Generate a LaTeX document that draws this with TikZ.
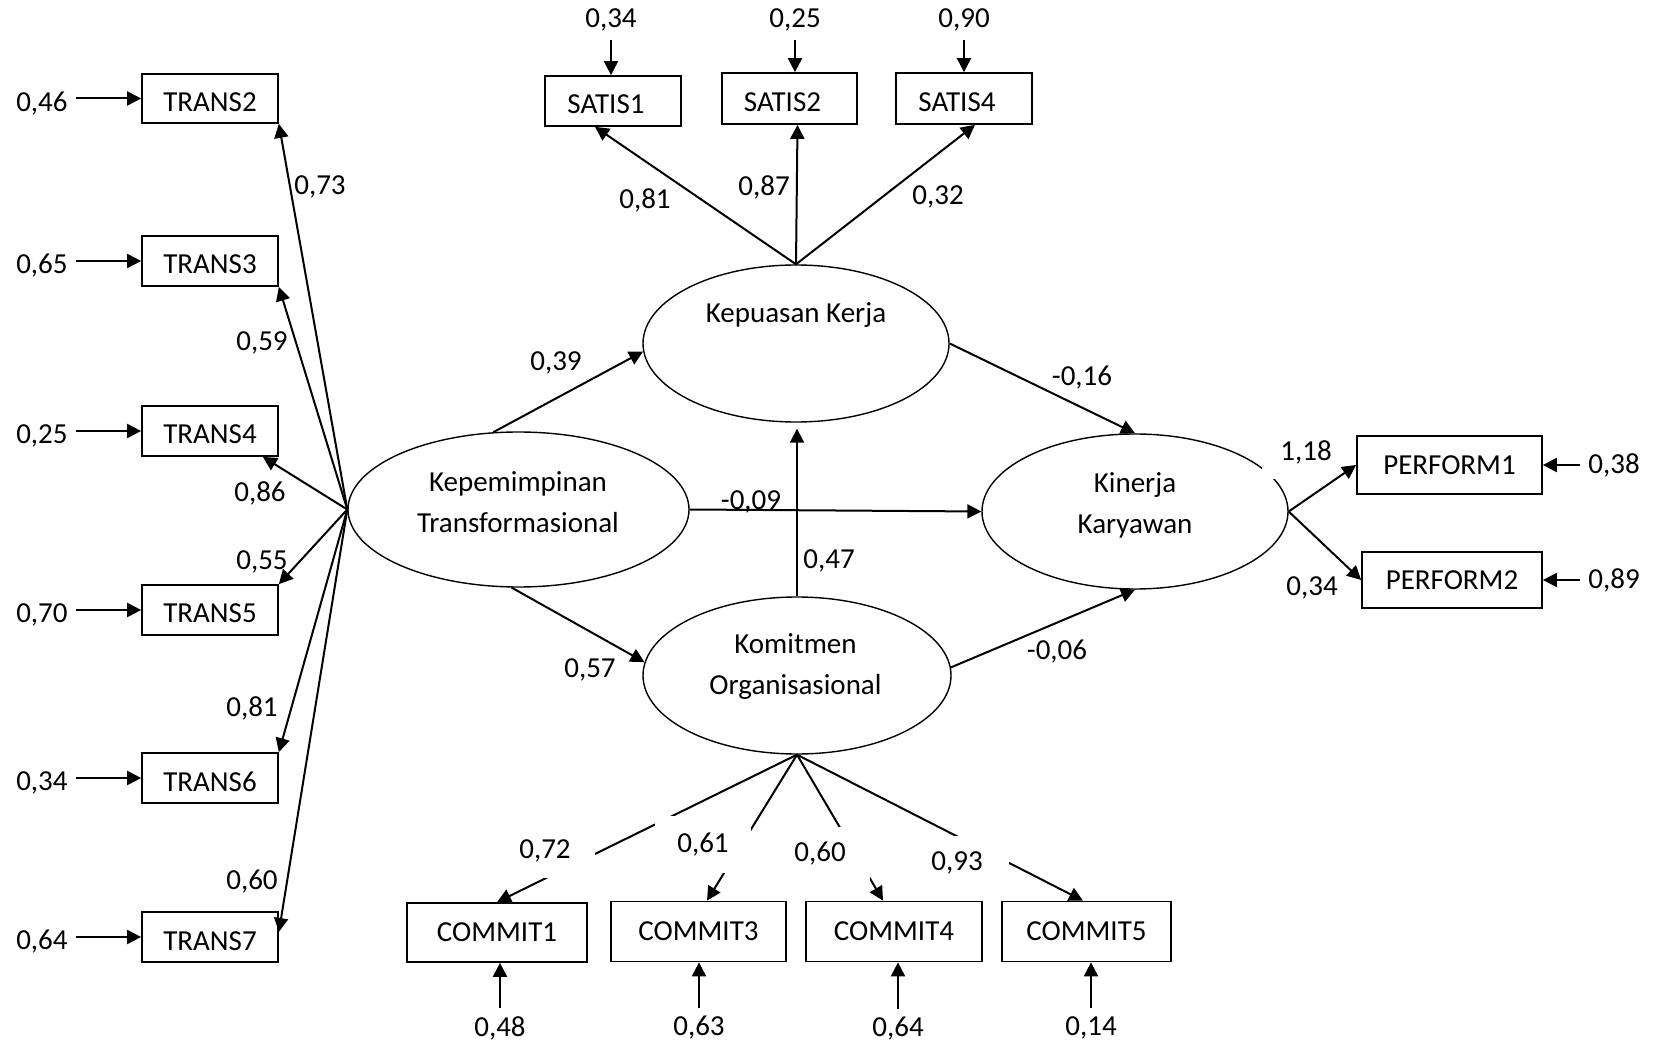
\documentclass[tikz,border=0pt]{standalone}
\usepackage{fontspec}
\setmainfont{Carlito}
\usetikzlibrary{arrows.meta,calc,shapes.geometric}
\begin{document}
\begin{tikzpicture}[x=0.5pt,y=-0.5pt,
  every node/.style={font=\fontsize{14.5}{20.5}\selectfont},
  box/.style={draw,line width=0.85pt,inner sep=0pt},
  lowbox/.style={box,text height=13pt,text depth=0pt},
  lat/.style={draw,ellipse,line width=0.7pt,inner sep=0pt},
  arr/.style={line width=1pt,-{Triangle[length=7pt,width=7pt]}},
  num/.style={inner sep=0pt},
  err/.style={inner sep=4pt},
  gap/.style={fill=white,inner sep=0pt}
]
\useasboundingbox (0,0) rectangle (1654,1042);

% latent variables
\node[lat,minimum width=170.5pt,minimum height=77.5pt] (K) at (518.5,509.5) {};
\node[lat,minimum width=153pt,minimum height=78.5pt] (P) at (796,343.5) {};
\node[lat,minimum width=154pt,minimum height=78.5pt] (C) at (797,675.5) {};
\node[lat,minimum width=153pt,minimum height=77.5pt] (Y) at (1135,511.5) {};
\node[align=center] (Ktxt) at (518,502) {Kepemimpinan\\Transformasional};
\node (Ptxt) at (796,315) {Kepuasan Kerja};
\node[align=center] (Ctxt) at (795.5,667) {Komitmen\\Organisasional};
\node[align=center] (Ytxt) at (1135,505.5) {Kinerja\\Karyawan};

% indicator boxes
\node[lowbox,minimum width=68pt,minimum height=24.5pt] (T2) at (210,98.5) {TRANS2};
\node[lowbox,minimum width=68pt,minimum height=25pt] (T3) at (210,261) {TRANS3};
\node[lowbox,minimum width=68pt,minimum height=25pt] (T4) at (210,431) {TRANS4};
\node[lowbox,minimum width=68pt,minimum height=25pt] (T5) at (210,610) {TRANS5};
\node[lowbox,minimum width=68pt,minimum height=25pt] (T6) at (210,778) {TRANS6};
\node[lowbox,minimum width=68pt,minimum height=25pt] (T7) at (210,937) {TRANS7};

\node[lowbox,minimum width=68pt,minimum height=25pt] (S1) at (613,101) {\hspace*{-7pt}SATIS1};
\node[lowbox,minimum width=67.5pt,minimum height=25.5pt] (S2) at (789.5,98.5) {\hspace*{-7pt}SATIS2};
\node[lowbox,minimum width=68pt,minimum height=25.5pt] (S4) at (964,98.5) {\hspace*{-7pt}SATIS4};

\node[box,minimum width=92.5pt,minimum height=29pt] (PF1) at (1449.5,465) {PERFORM1};
\node[box,minimum width=90pt,minimum height=28pt] (PF2) at (1452,580) {PERFORM2};

\node[box,minimum width=90pt,minimum height=29.5pt] (CM1) at (497,932.5) {COMMIT1};
\node[box,minimum width=87.5pt,minimum height=30pt] (CM3) at (698.5,931.5) {COMMIT3};
\node[box,minimum width=88pt,minimum height=30pt] (CM4) at (894,931.5) {COMMIT4};
\node[box,minimum width=84.5pt,minimum height=30pt] (CM5) at (1086.5,931.5) {COMMIT5};

% error terms
\node[err,anchor=east,yshift=-2.5pt] (eT2) at (76,98.5) {0,46};
\node[err,anchor=east,yshift=-2.5pt] (eT3) at (76,261) {0,65};
\node[err,anchor=east,yshift=-2.5pt] (eT4) at (76,431) {0,25};
\node[err,anchor=east,yshift=-2.5pt] (eT5) at (76,610) {0,70};
\node[err,anchor=east,yshift=-2.5pt] (eT6) at (76,778) {0,34};
\node[err,anchor=east,yshift=-2.5pt] (eT7) at (76,937) {0,64};
\draw[arr] (eT2.east |- T2.west) -- (T2.west);
\draw[arr] (eT3.east |- T3.west) -- (T3.west);
\draw[arr] (eT4.east |- T4.west) -- (T4.west);
\draw[arr] (eT5.east |- T5.west) -- (T5.west);
\draw[arr] (eT6.east |- T6.west) -- (T6.west);
\draw[arr] (eT7.east |- T7.west) -- (T7.west);

\node[err,anchor=south] (eS1) at (611,40) {0,34};
\node[err,anchor=south] (eS2) at (795,40) {0,25};
\node[err,anchor=south] (eS4) at (964,40) {0,90};
\draw[arr] (eS1.south) -- (eS1.south |- S1.north);
\draw[arr] (eS2.south) -- (eS2.south |- S2.north);
\draw[arr] (eS4.south) -- (eS4.south |- S4.north);

\node[err,anchor=west] (eP1) at (1580,465) {0,38};
\node[err,anchor=west] (eP2) at (1580,580) {0,89};
\draw[arr] (eP1.west) -- (PF1.east);
\draw[arr] (eP2.west) -- (PF2.east);

\node[err,anchor=north] (eC1) at (500,1008) {0,48};
\node[err,anchor=north] (eC3) at (699,1008) {0,63};
\node[err,anchor=north] (eC4) at (898,1009) {0,64};
\node[err,anchor=north] (eC5) at (1091,1008) {0,14};
\draw[arr] (eC1.north) -- (eC1.north |- CM1.south);
\draw[arr] (eC3.north) -- (eC3.north |- CM3.south);
\draw[arr] (eC4.north) -- (eC4.north |- CM4.south);
\draw[arr] (eC5.north) -- (eC5.north |- CM5.south);

% loadings of Kepemimpinan
\draw[arr] (K.west) -- (T2.south east);
\draw[arr] (K.west) -- (T3.south east);
\draw[arr] (K.west) -- ($(T4.south east)+(-16,0)$);
\draw[arr] (K.west) -- (T5.north east);
\draw[arr] (K.west) -- (T6.north east);
\draw[arr] (K.west) -- ($(T7.east)+(0,-5)$);
\node[num] (lT2) at (320,187) {0,73};
\node[num] (lT3) at (262,343) {0,59};
\node[num] (lT4) at (260,493) {0,86};
\node[num] (lT5) at (262,562) {0,55};
\node[num] (lT6) at (252,708) {0,81};
\node[num] (lT7) at (252,882) {0,60};

% loadings of Kepuasan
\draw[arr] (P.north) -- ($(S1.south)+(-18,0)$);
\draw[arr] (P.north) -- ($(S2.south)+(8,0)$);
\draw[arr] (P.north) -- ($(S4.south)+(11,0)$);
\node[num] (lS1) at (645,200) {0,81};
\node[num] (lS2) at (764,187) {0,87};
\node[num] (lS4) at (938,197) {0,32};

% loadings of Komitmen
\draw[arr] (C.south) -- (CM1.north);
\draw[arr] (C.south) -- ($(CM3.north)+(8.5,0)$);
\draw[arr] (C.south) -- ($(CM4.north)+(-11,0)$);
\draw[arr] (C.south) -- ($(CM5.north)+(-3.5,0)$);
\node[gap,minimum width=50pt,minimum height=26.5pt] (lC1) at (545,851) {0,72};
\node[gap,minimum width=48pt,minimum height=28.5pt] (lC3) at (703,844.5) {0,61};
\node[gap,minimum width=50pt,minimum height=27pt] (lC4) at (820,854) {0,60};
\node[gap,minimum width=51.5pt,minimum height=27pt] (lC5) at (957,863) {0,93};

% structural paths
\draw[arr] (K.108) -- (P.183);
\draw[arr] (K.265) -- (C.175);
\draw[arr] (K.east) -- (Y.west);
\draw[arr,shorten >=3pt] (C.north) -- (C.north |- P.south);
\draw[arr] (P.east) -- (Y.north);
\draw[arr] (C.3) -- (Y.south);
\node[num] (b1) at (556,363) {0,39};
\node[num] (b2) at (590,670) {0,57};
\node[num] (b3) at (751,502) {-0,09};
\node[num] (b4) at (829,561) {0,47};
\node[num] (b5) at (1082,378) {-0,16};
\node[num] (b6) at (1057,652) {-0,06};

% loadings of Kinerja
\node[gap,minimum width=44pt,minimum height=27pt] (lP1) at (1306,452) {1,18};
\draw[arr] (Y.east) -- (PF1.west);
\draw[arr] (Y.east) -- (PF2.west);
\node[num] (lP2) at (1312,588) {0,34};
\end{tikzpicture}
\end{document}
